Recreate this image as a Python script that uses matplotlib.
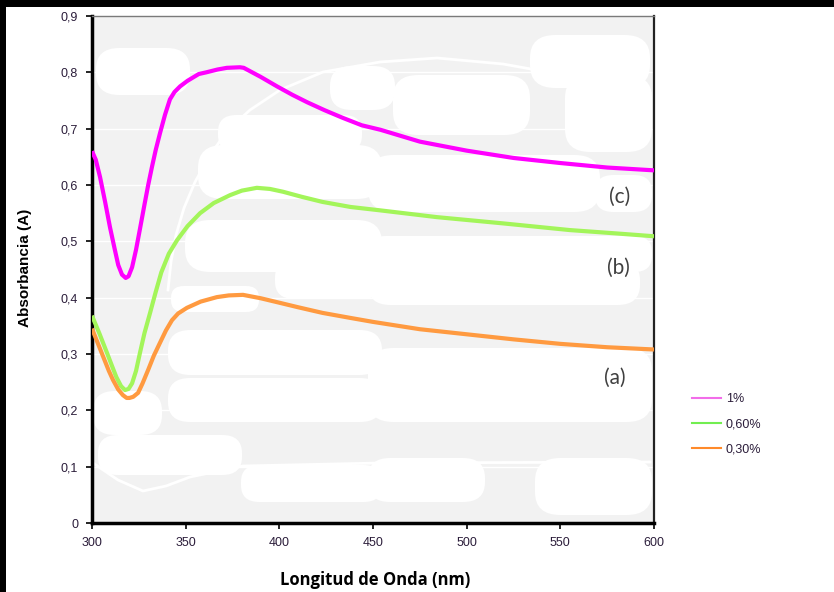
import matplotlib
matplotlib.use("Agg")
import matplotlib.pyplot as plt
from matplotlib.patches import FancyBboxPatch, Rectangle
from matplotlib.lines import Line2D

# UV-Vis absorbance spectra, three concentrations
wl_1 = [300, 302, 304.3, 307, 309.6, 312, 314, 316, 318, 319.5, 321.4, 323.5,
        325.6, 328, 330, 332, 334, 336.3, 339, 341.6, 344, 347, 351, 357, 361,
        367, 372, 379, 381, 390, 398.8, 407, 414.8, 424, 434, 444, 454, 475,
        500, 525, 550, 575, 600]
abs_1 = [0.66, 0.645, 0.614, 0.57, 0.525, 0.488, 0.458, 0.441, 0.435, 0.438,
         0.454, 0.485, 0.522, 0.565, 0.60, 0.632, 0.662, 0.692, 0.725, 0.752,
         0.765, 0.775, 0.785, 0.797, 0.80, 0.805, 0.808, 0.809, 0.808, 0.792,
         0.775, 0.76, 0.747, 0.733, 0.719, 0.706, 0.698, 0.677, 0.661, 0.648,
         0.639, 0.631, 0.626]

wl_060 = [300, 304, 308, 311, 313, 315.5, 317.6, 319.5, 321.4, 323.5, 325.6,
          328, 331, 334, 337, 341, 345.4, 351, 357.7, 365, 373.7, 380, 388,
          395, 402, 412, 423, 438, 453.8, 484, 519, 555, 580, 600]
abs_060 = [0.368, 0.336, 0.302, 0.276, 0.259, 0.243, 0.236, 0.238, 0.248,
           0.27, 0.302, 0.337, 0.373, 0.41, 0.445, 0.478, 0.502, 0.527, 0.55,
           0.568, 0.582, 0.59, 0.595, 0.593, 0.588, 0.579, 0.57, 0.561, 0.555,
           0.543, 0.532, 0.52, 0.514, 0.509]

wl_030 = [300, 303, 306, 309, 311.2, 314, 316.5, 318.5, 320, 322, 324.6, 327,
          330, 333, 336.3, 339.5, 342.7, 346, 350.7, 358, 366.7, 373, 380.6,
          390, 398.8, 410, 423, 438, 450, 475, 500, 525, 550, 575, 600]
abs_030 = [0.345, 0.32, 0.295, 0.27, 0.254, 0.237, 0.227, 0.222, 0.222, 0.224,
           0.231, 0.248, 0.272, 0.297, 0.32, 0.342, 0.36, 0.372, 0.382, 0.393,
           0.401, 0.404, 0.405, 0.399, 0.392, 0.383, 0.373, 0.364, 0.357,
           0.344, 0.335, 0.326, 0.318, 0.312, 0.308]

series_names = ["1%", "0,60%", "0,30%"]
curve_tags = ["(c)", "(b)", "(a)"]
x_ticks = [300, 350, 400, 450, 500, 550, 600]
y_ticks = [0, 0.1, 0.2, 0.3, 0.4, 0.5, 0.6, 0.7, 0.8, 0.9]
y_tick_labels = ["0", "0,1", "0,2", "0,3", "0,4", "0,5", "0,6", "0,7", "0,8", "0,9"]

line_colors = ["#ff00ff", "#a3f55a", "#ff9a40"]
legend_colors = ["#f26de9", "#72ee50", "#ff8a2a"]
text_col = "#2b1d3a"

W, H = 834, 592
fig = plt.figure(figsize=(W / 100, H / 100), dpi=100)
fig.patch.set_facecolor("white")

# dark strips along the top and left edges
fig.patches.append(Rectangle((0, 1 - 7 / H), 1, 7 / H, transform=fig.transFigure,
                             facecolor="black", edgecolor="none"))
fig.patches.append(Rectangle((0, 0), 6 / W, 1, transform=fig.transFigure,
                             facecolor="black", edgecolor="none"))

L, R, T, B = 92, 654, 16, 523
ax = fig.add_axes([L / W, 1 - B / H, (R - L) / W, (B - T) / H])
ax.set_facecolor("#f2f2f2")


def frac(px, py):
    return (px - L) / (R - L), (B - py) / (B - T)


# washed-out patches on the plot background
patches_px = [
    (96, 48, 190, 95), (330, 66, 395, 110), (393, 75, 530, 135),
    (530, 35, 650, 88), (565, 75, 652, 152), (218, 115, 362, 152),
    (198, 145, 382, 199), (368, 155, 600, 212), (595, 175, 652, 212),
    (185, 220, 382, 272), (368, 236, 652, 272), (275, 260, 382, 299),
    (368, 260, 640, 305), (171, 286, 259, 312), (168, 330, 382, 375),
    (168, 378, 382, 422), (368, 348, 652, 422), (93, 391, 162, 435),
    (98, 435, 242, 475), (241, 465, 382, 502), (368, 458, 485, 502),
    (535, 458, 652, 515),
]
for x0, y0, x1, y1 in patches_px:
    fx0, fy1 = frac(x0, y0)
    fx1, fy0 = frac(x1, y1)
    rs = min(0.045, (fy1 - fy0) * 0.45)
    ax.add_patch(FancyBboxPatch((fx0, fy0), fx1 - fx0, fy1 - fy0,
                                boxstyle=f"round,pad=0,rounding_size={rs}",
                                transform=ax.transAxes, facecolor="white",
                                edgecolor="none", zorder=0.5))

# faint white arcs
arc_hi = [(168, 290), (171, 262), (176, 235), (184, 208), (195, 182),
          (210, 155), (228, 130), (250, 110), (280, 90), (323, 72),
          (380, 62), (437, 58), (503, 64), (570, 76), (650, 93)]
arc_lo = [(93, 463), (118, 480), (143, 491), (166, 486), (190, 477),
          (243, 466), (380, 463), (650, 462)]
for arc in (arc_hi, arc_lo):
    pts = [frac(px, py) for px, py in arc]
    ax.add_line(Line2D([p[0] for p in pts], [p[1] for p in pts], color="white",
                       lw=2, transform=ax.transAxes, zorder=0.6,
                       solid_joinstyle="round"))

for yv in y_ticks[1:-1]:
    ax.axhline(yv, color="white", lw=1, zorder=0.7)

for xs, ys, c, name in zip([wl_1, wl_060, wl_030], [abs_1, abs_060, abs_030],
                           line_colors, series_names):
    ax.plot(xs, ys, color=c, lw=3, solid_capstyle="butt", solid_joinstyle="round",
            zorder=3, label=name)

tag_pos = [(581.9, 0.579), (580.8, 0.453), (579.2, 0.257)]
for tag, (tx, ty) in zip(curve_tags, tag_pos):
    ax.text(tx, ty, tag, fontsize=15, family="Lato", color="#404040",
            ha="center", va="center", zorder=4)

ax.set_xlim(300, 600)
ax.set_ylim(0, 0.9)
ax.set_xticks(x_ticks)
ax.set_xticklabels([str(v) for v in x_ticks])
ax.set_yticks(y_ticks)
ax.set_yticklabels(y_tick_labels)
ax.tick_params(axis="both", direction="out", length=4, width=1.2, color="black",
               labelsize=9, labelcolor=text_col, pad=6)
for lab in ax.get_xticklabels() + ax.get_yticklabels():
    lab.set_family("Liberation Sans")

ax.spines["left"].set_linewidth(2.5)
ax.spines["bottom"].set_linewidth(2.5)
ax.spines["top"].set_linewidth(1)
ax.spines["top"].set_color("#7a7a7a")
ax.spines["right"].set_linewidth(1.6)
ax.spines["right"].set_color("#222222")

fig.text(25 / W, 1 - 268 / H, "Absorbancia (A)", rotation=90, fontsize=11,
         fontweight="bold", family="Liberation Sans", ha="center", va="center")
fig.text(375 / W, 1 - 580 / H, "Longitud de Onda (nm)", fontsize=12,
         fontweight="bold", family="Open Sans", ha="center", va="center")

handles = [Line2D([], [], color=c, lw=1.5) for c in legend_colors]
leg = fig.legend(handles, series_names, loc="upper left",
                 bbox_to_anchor=(692 / W, 1 - 393 / H), frameon=False,
                 fontsize=9, handlelength=2.3, handletextpad=0.4,
                 labelspacing=1.05, borderpad=0, borderaxespad=0)
for t in leg.get_texts():
    t.set_color(text_col)
    t.set_family("Liberation Sans")

fig.savefig("out.png", dpi=100)
